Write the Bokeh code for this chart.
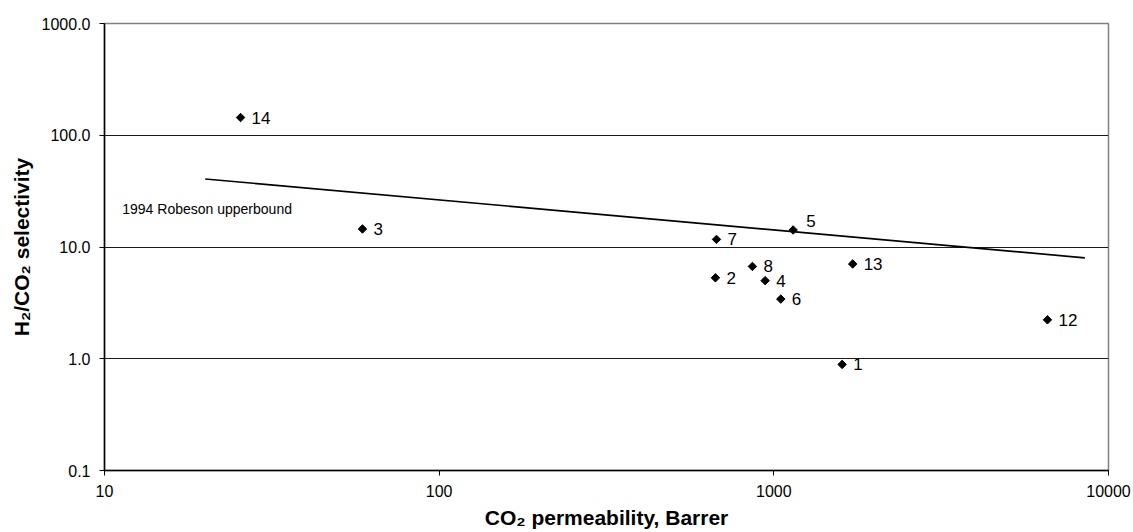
import math
from bokeh.plotting import figure
from bokeh.models import Range1d, FixedTicker, PrintfTickFormatter, ColumnDataSource
from bokeh.core.properties import value
from bokeh.embed import file_html
from bokeh.resources import INLINE

# Data
labels = ["1", "2", "3", "4", "5", "6", "7", "8", "12", "13", "14"]
co2_perm = [1600, 669, 59, 942, 1142, 1049, 674, 863, 6570, 1720, 25.5]
selectivity = [0.89, 5.3, 14.5, 5.0, 14.2, 3.42, 11.7, 6.7, 2.23, 7.05, 144]

robeson_x = [20, 8500]
robeson_y = [40.6, 8.0]

x_ticks = [10, 100, 1000, 10000]
y_ticks = [0.1, 1, 10, 100, 1000]

# label pixel offsets (style)
label_dx = {"5": 13}
label_dy = {"5": -9}

FONT = "Liberation Sans"

p = figure(width=1133, height=532, x_axis_type="log", y_axis_type="log",
           x_range=Range1d(10, 10000), y_range=Range1d(0.1, 1000),
           output_backend="svg", toolbar_location=None,
           min_border_left=104, min_border_right=25, min_border_top=23, min_border_bottom=62,
           background_fill_color="white", border_fill_color="white")

p.outline_line_color = "#808080"
p.outline_line_width = 1.5

# grid
p.xgrid.visible = False
p.ygrid.ticker = FixedTicker(ticks=y_ticks, minor_ticks=[])
p.ygrid.grid_line_color = "#1a1a1a"
p.ygrid.grid_line_width = 1

# axes
for ax in (p.xaxis[0], p.yaxis[0]):
    ax.axis_line_color = "black"
    ax.axis_line_width = 1.5
    ax.major_tick_line_color = "black"
    ax.major_tick_in = 0
    ax.major_tick_out = 5
    ax.minor_tick_line_color = None
    ax.major_label_text_font = FONT
    ax.major_label_text_font_size = "16px"
    ax.major_label_text_color = "black"
    ax.axis_label_text_font = FONT
    ax.axis_label_text_font_size = "21px"
    ax.axis_label_text_font_style = "bold"
    ax.axis_label_text_color = "black"

p.xaxis.ticker = FixedTicker(ticks=x_ticks, minor_ticks=[])
p.yaxis.ticker = FixedTicker(ticks=y_ticks, minor_ticks=[])
p.xaxis.formatter = PrintfTickFormatter(format="%d")
p.yaxis.formatter = PrintfTickFormatter(format="%.1f")
p.xaxis.major_label_standoff = 9
p.yaxis.major_label_standoff = 9
p.xaxis.axis_label = "CO\u2082 permeability, Barrer"
p.yaxis.axis_label = "H\u2082/CO\u2082 selectivity"
p.xaxis.axis_label_standoff = 6
p.yaxis.axis_label_standoff = 6

# Robeson line
p.line(robeson_x, robeson_y, line_color="black", line_width=1.6)
p.text(x=[11.3], y=[21.7], text=["1994 Robeson upperbound"],
       text_font=value(FONT), text_font_size="14px", text_color="black",
       text_align="left", text_baseline="middle")

# points
src = ColumnDataSource(dict(
    x=co2_perm, y=selectivity, lab=labels,
    dx=[label_dx.get(l, 11) for l in labels],
    dy=[label_dy.get(l, 0) for l in labels],
))
p.scatter("x", "y", source=src, marker="square", size=6, angle=math.pi / 4,
          fill_color="black", line_color="black")
p.text("x", "y", text="lab", source=src, x_offset="dx", y_offset="dy",
       text_font=value(FONT), text_font_size="17px", text_color="black",
       text_align="left", text_baseline="middle")

open("out.html", "w").write(file_html(p, INLINE))
